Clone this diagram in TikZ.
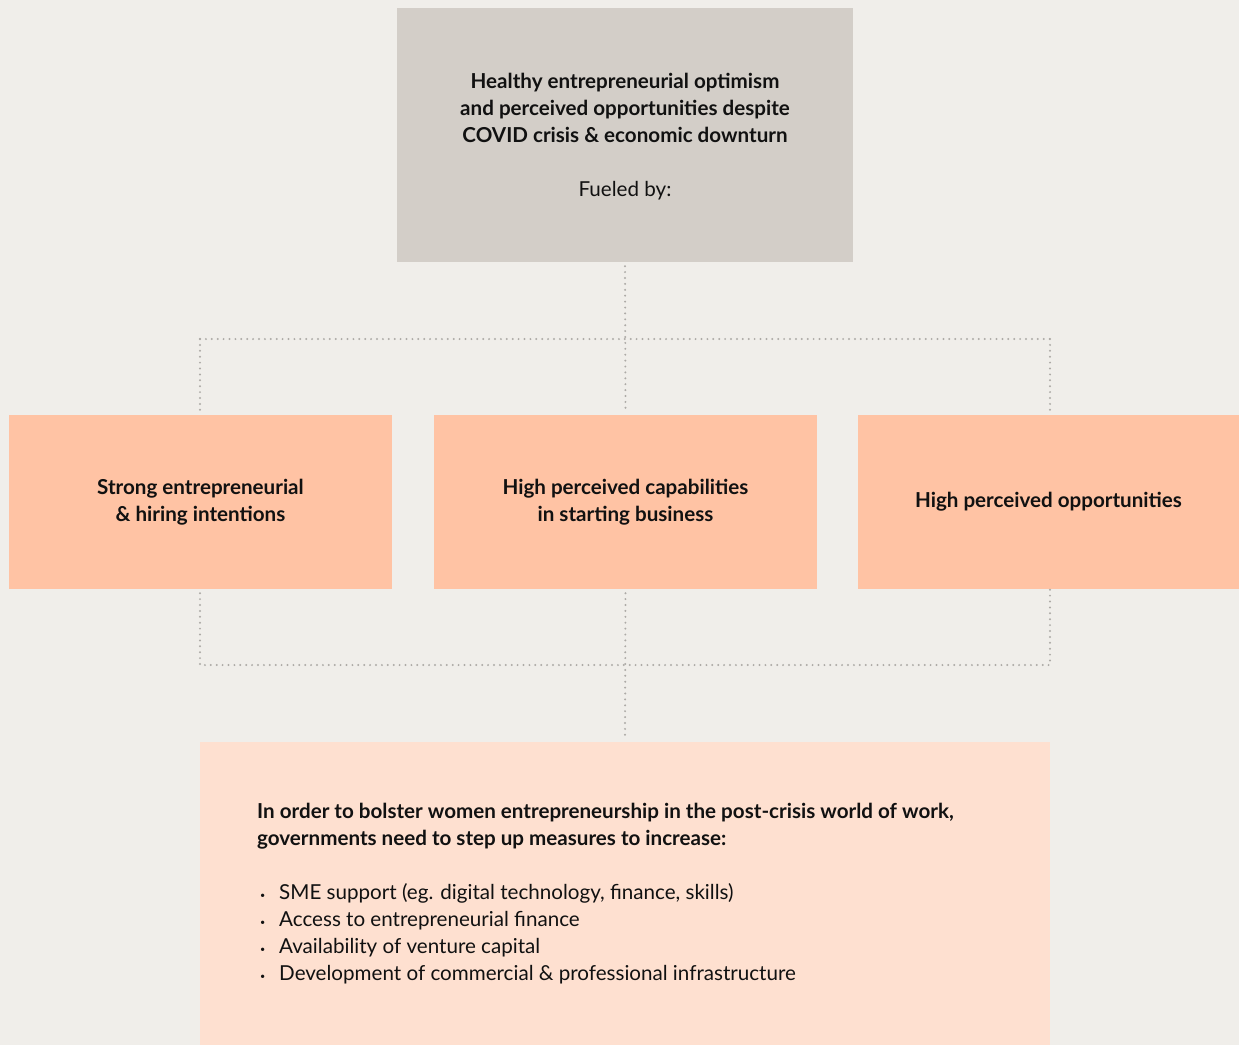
\documentclass[tikz,border=0pt]{standalone}
\usepackage{fontspec}
\setmainfont{Lato}
\definecolor{pagebg}{HTML}{F0EEEA}
\definecolor{topfill}{HTML}{D3CEC8}
\definecolor{midfill}{HTML}{FFC3A4}
\definecolor{lowfill}{HTML}{FEE0D0}
\definecolor{dotgray}{HTML}{ADAAA6}
\definecolor{ink}{HTML}{111111}
\newcommand{\txtsize}{\fontsize{20.6}{27}\selectfont}
\newcommand{\blt}{\makebox[19pt][l]{\raisebox{0.3pt}{\small\textbullet}}}
\begin{document}
\begin{tikzpicture}[x=1pt,y=-1pt,
  box/.style={draw=none,inner sep=0pt,align=center,text=ink,font=\txtsize},
  topbox/.style={box,fill=topfill,minimum width=456pt,minimum height=254pt},
  midbox/.style={box,fill=midfill,minimum height=174pt,font=\txtsize\bfseries},
  lowbox/.style={box,fill=lowfill,minimum width=850pt,minimum height=303pt},
  dotline/.style={draw=dotgray,line width=2.2pt,line cap=round,dash pattern=on 0pt off 5.9pt},
  bodytext/.style={inner sep=0pt,align=left,anchor=north west,text=ink,font=\txtsize}
]
% page background and bounding box
\fill[pagebg] (0,0) rectangle (1239,1045);
\useasboundingbox (0,0) rectangle (1239,1045);

% boxes
\node[topbox] (top) at (625,135) {};
\node[box] (toptext) at (625,137)
  {\textbf{Healthy entrepreneurial optimism}\\
   \textbf{and perceived opportunities despite}\\
   \textbf{COVID crisis \& economic downturn}\\[27pt]
   Fueled by:};
\node[midbox,minimum width=383pt] (b1) at (200.5,502)
  {Strong entrepreneurial\\\& hiring intentions};
\node[midbox,minimum width=383pt] (b2) at (625.5,502)
  {High perceived capabilities\\in starting business};
\node[midbox,minimum width=381pt] (b3) at (1048.5,502)
  {High perceived opportunities};
\node[lowbox] (bot) at (625,893.5) {};

% text of the lower box
\node[bodytext] (lead) at (257,803)
  {\textbf{In order to bolster women entrepreneurship in the post-crisis world of work,}\\
   \textbf{governments need to step up measures to increase:}};
\node[bodytext] (list) at (260,883)
  {\blt SME support (eg. digital technology, finance, skills)\\
   \blt Access to entrepreneurial finance\\
   \blt Availability of venture capital\\
   \blt Development of commercial \& professional infrastructure};

% junction points of the connectors
\coordinate (jl) at (200,339);
\coordinate (jr) at (1050,339);
\coordinate (kl) at (200,665);
\coordinate (kr) at (1050,665);

% upper connectors
\draw[dotline,shorten <=4pt,shorten >=4pt] (top.south) -- (b2.north);
\draw[dotline] (jl) -- (jr);
\draw[dotline,shorten >=4pt] (jl) -- (jl |- b1.north);
\draw[dotline,shorten >=4pt] (jr) -- (jr |- b3.north);

% lower connectors
\draw[dotline,shorten <=4pt] (kl |- b1.south) -- (kl) -- (kr) -- (kr |- b3.south);
\draw[dotline,shorten <=4pt,shorten >=2pt] (b2.south) -- (bot.north);
\end{tikzpicture}
\end{document}
